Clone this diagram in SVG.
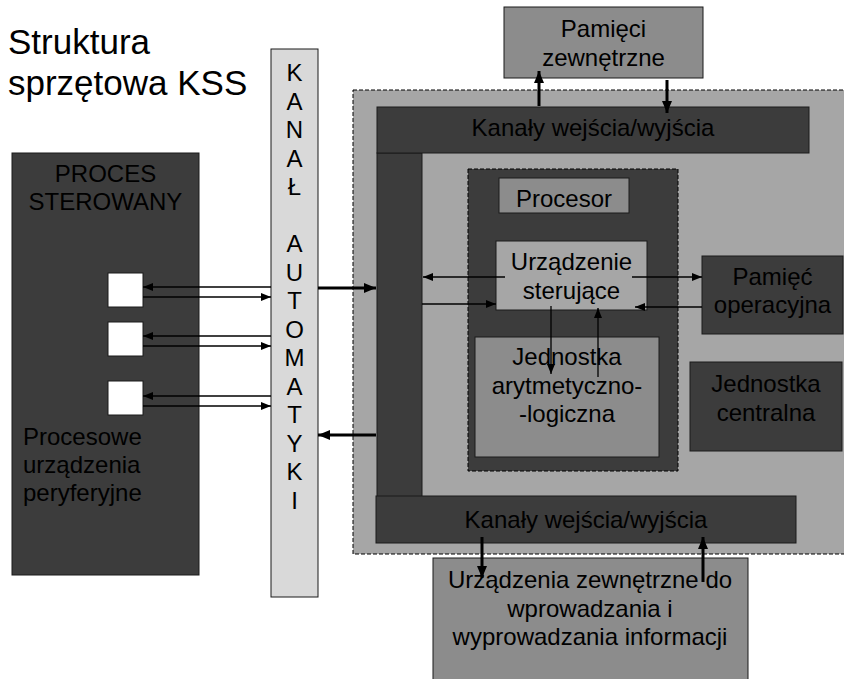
<svg xmlns="http://www.w3.org/2000/svg" width="844" height="679" viewBox="0 0 844 679">
  <defs>
    <marker id="ah" markerUnits="userSpaceOnUse" markerWidth="10" markerHeight="8" refX="10" refY="4" orient="auto">
      <path d="M0,0 L10,4 L0,8 z" fill="#000"/>
    </marker>
    <marker id="ahb" markerUnits="userSpaceOnUse" markerWidth="12" markerHeight="10" refX="12" refY="5" orient="auto">
      <path d="M0,0 L12,5 L0,10 z" fill="#000"/>
    </marker>
    <style>
      text { font-family: "Liberation Sans", Arial, sans-serif; fill: #000; }
      .t24 { font-size: 24px; }
      .mid { text-anchor: middle; }
      .box { stroke: #1a1a1a; stroke-width: 1; }
      .dark { fill: #3c3c3c; }
      .med { fill: #8c8c8c; }
      .light { fill: #a6a6a6; }
      .pale { fill: #d9d9d9; }
      .dash { stroke: #000; stroke-width: 1; stroke-dasharray: 4 2; }
      .thin { stroke: #000; stroke-width: 1.3; fill: none; marker-end: url(#ah); }
      .thick { stroke: #000; stroke-width: 3; fill: none; marker-end: url(#ahb); }
    </style>
  </defs>

  <rect width="844" height="679" fill="#fff"/>

  <!-- title -->
  <g id="title">
    <text x="8" y="54" font-size="35">Struktura</text>
    <text x="8" y="95" font-size="35">sprzętowa KSS</text>
  </g>

  <!-- controlled process with its peripheral devices -->
  <g id="proces">
    <rect class="box dark" x="12" y="153" width="187" height="422"/>
    <text class="t24 mid" x="105.5" y="182">PROCES</text>
    <text class="t24 mid" x="105.5" y="210">STEROWANY</text>
    <text class="t24" x="23" y="445">Procesowe</text>
    <text class="t24" x="23" y="473">urządzenia</text>
    <text class="t24" x="23" y="501">peryferyjne</text>
  </g>
  <g id="urzadzenie-1"><rect class="box" fill="#fff" x="108" y="273" width="35" height="34"/></g>
  <g id="urzadzenie-2"><rect class="box" fill="#fff" x="108" y="322" width="35" height="34"/></g>
  <g id="urzadzenie-3"><rect class="box" fill="#fff" x="108" y="381" width="35" height="34"/></g>

  <!-- automation channel -->
  <g id="kanal-automatyki">
    <rect class="box pale" x="271" y="49" width="47" height="548"/>
    <g class="t24 mid">
      <text x="294.5" y="81">K</text>
      <text x="294.5" y="109.5">A</text>
      <text x="294.5" y="138">N</text>
      <text x="294.5" y="166.5">A</text>
      <text x="294.5" y="195">Ł</text>
      <text x="294.5" y="252">A</text>
      <text x="294.5" y="280.5">U</text>
      <text x="294.5" y="309">T</text>
      <text x="294.5" y="337.5">O</text>
      <text x="294.5" y="366">M</text>
      <text x="294.5" y="394.5">A</text>
      <text x="294.5" y="423">T</text>
      <text x="294.5" y="451.5">Y</text>
      <text x="294.5" y="480">K</text>
      <text x="294.5" y="508.5">I</text>
    </g>
  </g>

  <!-- computer system area -->
  <g id="system">
    <rect class="light dash" x="353" y="90" width="500" height="464"/>
  </g>

  <g id="szyna">
    <rect class="box dark" x="377" y="153" width="45" height="344"/>
  </g>

  <g id="kanaly-gora">
    <rect class="box dark" x="377" y="107" width="432" height="46"/>
    <text class="t24 mid" x="593" y="136">Kanały wejścia/wyjścia</text>
  </g>

  <g id="kanaly-dol">
    <rect class="box dark" x="376" y="496" width="420" height="47"/>
    <text class="t24 mid" x="586" y="528">Kanały wejścia/wyjścia</text>
  </g>

  <g id="pamieci-zewnetrzne">
    <rect class="box med" x="504" y="7" width="199" height="71"/>
    <text class="t24 mid" x="603.5" y="37">Pamięci</text>
    <text class="t24 mid" x="603.5" y="65.5">zewnętrzne</text>
  </g>

  <g id="urzadzenia-zewnetrzne">
    <rect class="box med" x="433" y="558" width="315" height="130"/>
    <text class="t24 mid" x="590" y="588">Urządzenia zewnętrzne do</text>
    <text class="t24 mid" x="590" y="616.5">wprowadzania i</text>
    <text class="t24 mid" x="590" y="645">wyprowadzania informacji</text>
  </g>

  <g id="procesor">
    <rect class="dark dash" x="468" y="169" width="210" height="302"/>
    <rect class="box med" x="499" y="178" width="130" height="35"/>
    <text class="t24 mid" x="564" y="207">Procesor</text>
  </g>

  <g id="urzadzenie-sterujace">
    <rect class="box light" x="496" y="241" width="151" height="69"/>
    <text class="t24 mid" x="571.5" y="270">Urządzenie</text>
    <text class="t24 mid" x="571.5" y="298.5">sterujące</text>
  </g>

  <g id="jednostka-arytmetyczno-logiczna">
    <rect class="box med" x="475" y="337" width="184" height="120"/>
    <text class="t24 mid" x="567" y="365">Jednostka</text>
    <text class="t24 mid" x="567" y="393.5">arytmetyczno-</text>
    <text class="t24 mid" x="567" y="422">-logiczna</text>
  </g>

  <g id="pamiec-operacyjna">
    <rect class="box dark" x="702" y="256" width="141" height="78"/>
    <text class="t24 mid" x="772.5" y="285">Pamięć</text>
    <text class="t24 mid" x="772.5" y="313">operacyjna</text>
  </g>

  <g id="jednostka-centralna">
    <rect class="box dark" x="690" y="362" width="152" height="89"/>
    <text class="t24 mid" x="766" y="392">Jednostka</text>
    <text class="t24 mid" x="766" y="421">centralna</text>
  </g>

  <!-- connectors -->
  <g id="connectors">
    <line class="thin" x1="271" y1="287" x2="143" y2="287"/>
    <line class="thin" x1="143" y1="297" x2="271" y2="297"/>
    <line class="thin" x1="271" y1="336" x2="143" y2="336"/>
    <line class="thin" x1="143" y1="346" x2="271" y2="346"/>
    <line class="thin" x1="271" y1="396" x2="143" y2="396"/>
    <line class="thin" x1="143" y1="406" x2="271" y2="406"/>

    <line class="thick" x1="318" y1="288" x2="376" y2="288"/>
    <line class="thick" x1="376" y1="435" x2="318" y2="435"/>

    <line class="thick" x1="539" y1="106" x2="539" y2="71"/>
    <line class="thick" x1="667" y1="80" x2="667" y2="113"/>

    <line class="thick" x1="482" y1="537" x2="482" y2="578"/>
    <line class="thick" x1="703" y1="582" x2="703" y2="537"/>

    <line class="thin" x1="505" y1="277" x2="423" y2="277"/>
    <line class="thin" x1="422" y1="304" x2="496" y2="304"/>
    <line class="thin" x1="632" y1="277" x2="702" y2="277"/>
    <line class="thin" x1="702" y1="307" x2="635" y2="307"/>
    <line class="thin" x1="551" y1="306" x2="551" y2="374"/>
    <line class="thin" x1="598" y1="377" x2="598" y2="308"/>
  </g>
</svg>
